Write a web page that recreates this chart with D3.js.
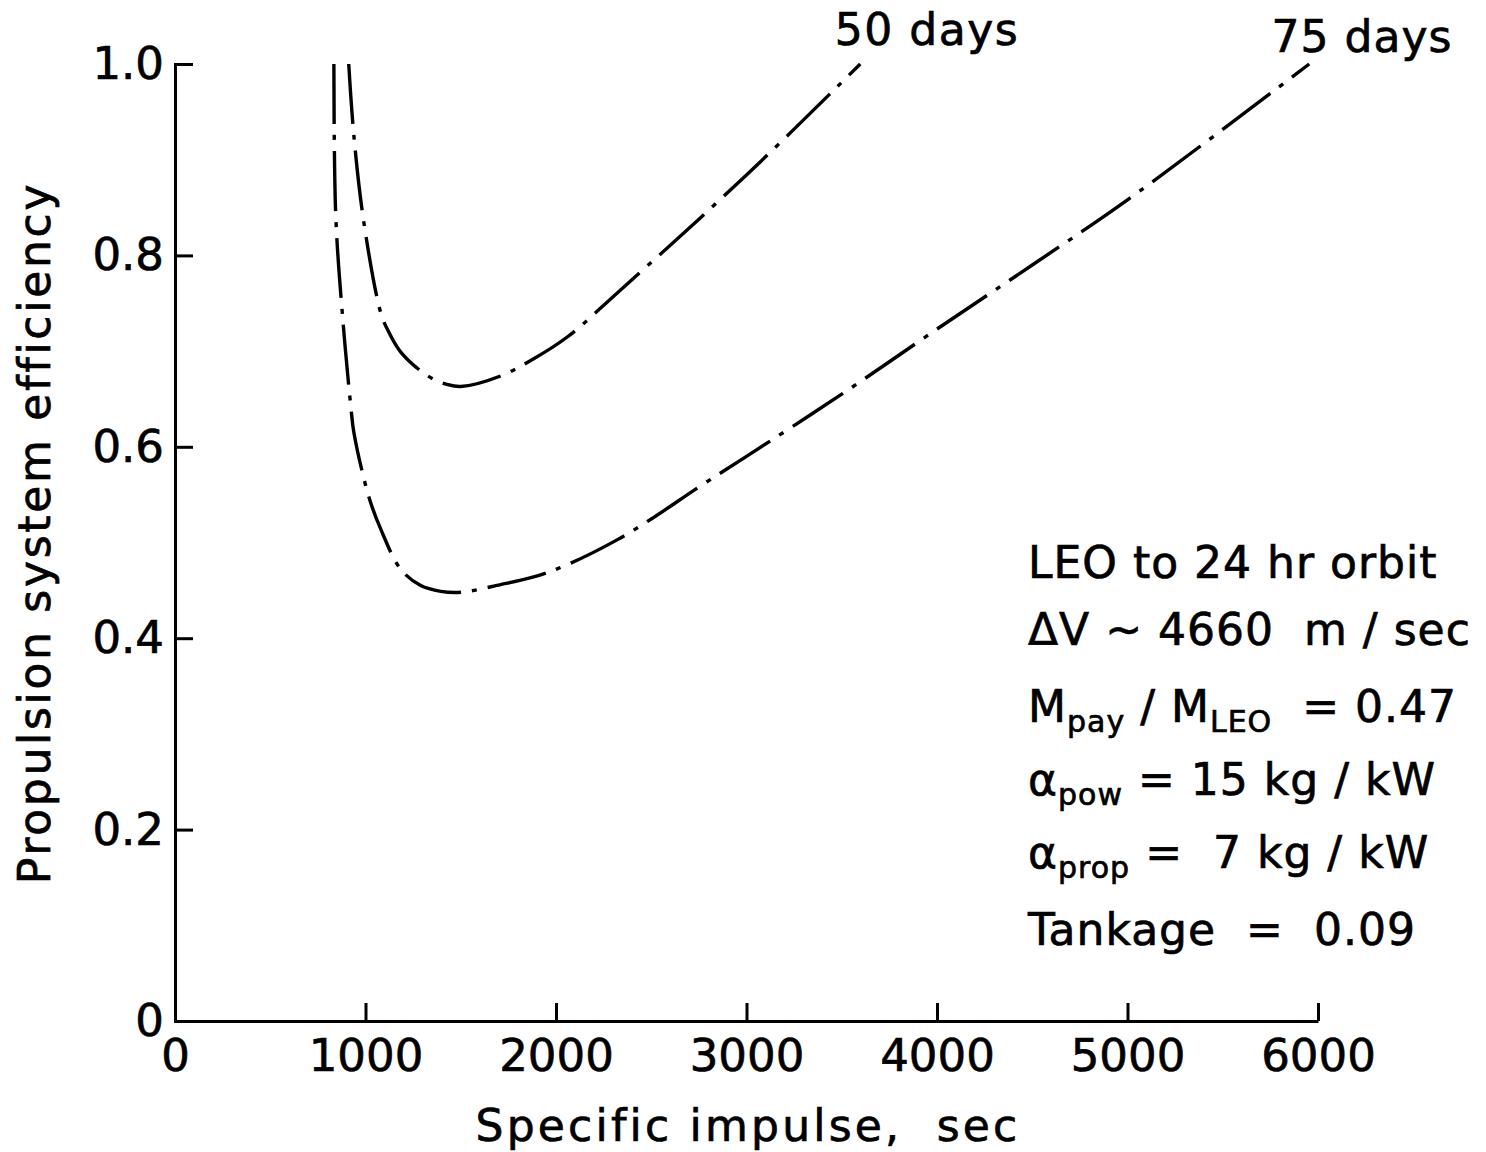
<!DOCTYPE html>
<html>
<head>
<meta charset="utf-8">
<script src="https://cdn.jsdelivr.net/npm/d3@7"></script>
<style>
  body { margin: 0; background: #fff; }
  svg text { font-family: "DejaVu Sans", sans-serif; fill: #000; stroke: #000; stroke-width: 0.7px; white-space: pre; }
</style>
</head>
<body>
<svg id="chart" width="1486" height="1152"></svg>
<script>
// specific impulse (sec) vs propulsion system efficiency, one curve per trip time
const isp50 = [912, 939, 991, 1080, 1117, 1185, 1327, 1431, 1500, 1709, 1883, 2061, 2323, 3000, 3597];
const eff50 = [1.0, 0.925, 0.835, 0.74, 0.722, 0.699, 0.674, 0.665, 0.663, 0.674, 0.692, 0.715, 0.761, 0.884, 1.0];

const isp75 = [834, 844, 881, 923, 939, 1017, 1080, 1185, 1290, 1395, 1500, 1709, 1883, 2061, 2323, 2496, 2758, 3000, 3500, 4000, 4500, 5000, 5954];
const eff75 = [1.0, 0.841, 0.733, 0.642, 0.615, 0.548, 0.514, 0.472, 0.455, 0.449, 0.448, 0.456, 0.464, 0.477, 0.503, 0.524, 0.559, 0.59, 0.655, 0.723, 0.79, 0.858, 1.0];

const curveLabels = ["50 days", "75 days"];

const xTicks = [0, 1000, 2000, 3000, 4000, 5000, 6000];
const yTicks = [0, 0.2, 0.4, 0.6, 0.8, 1.0];

// mission parameters box, each line split into [text, "sub"?] pieces
const noteLines = [
    [["LEO to 24 hr orbit"]],
    [["\u0394V ~ 4660  m / sec"]],
    [["M"], ["pay", "sub"], [" / M"], ["LEO", "sub"], ["  = 0.47"]],
    [["\u03b1"], ["pow", "sub"], [" = 15 kg / kW"]],
    [["\u03b1"], ["prop", "sub"], [" =  7 kg / kW"]],
    [["Tankage  =  0.09"]]
];

const svg = d3.select('#chart');

const xScale = d3.scaleLinear().domain([0, 6000]).range([175, 1318]);
const yScale = d3.scaleLinear().domain([0, 1]).range([1021, 64]);

/* Axes */
const xAxis = svg.append('g')
    .attr('transform', `translate(0,${yScale(0)})`)
    .call(d3.axisBottom(xScale)
        .tickValues(xTicks)
        .tickFormat(d3.format('d'))
        .tickSizeInner(-18)
        .tickSizeOuter(0)
        .tickPadding(18));

const yAxis = svg.append('g')
    .attr('transform', `translate(${xScale(0)},0)`)
    .call(d3.axisLeft(yScale)
        .tickValues(yTicks)
        .tickFormat((d) => d === 0 ? '0' : d3.format('.1f')(d))
        .tickSizeInner(-18)
        .tickSizeOuter(0)
        .tickPadding(11));

[xAxis, yAxis].forEach((ax) => {
    ax.selectAll('path, line').attr('stroke', '#000').attr('stroke-width', 3);
    ax.selectAll('text').attr('font-size', 45).attr('font-family', '"DejaVu Sans", sans-serif');
});
yAxis.select('path.domain').attr('stroke-linecap', 'square');

/* Curves */
const line = d3.line()
    .x((d) => xScale(d[0]))
    .y((d) => yScale(d[1]))
    .curve(d3.curveCatmullRom.alpha(0.5));

const series = [d3.zip(isp50, eff50), d3.zip(isp75, eff75)];

svg.append('g').selectAll('path')
    .data(series)
    .enter()
    .append('path')
    .attr('fill', 'none')
    .attr('stroke', '#000')
    .attr('stroke-width', 3.4)
    .attr('stroke-dasharray', '60,11,5,11')
    .attr('d', line);

// curve names above the upper end of each line
svg.append('text')
    .attr('x', 927).attr('y', 45)
    .attr('font-size', 44).attr('text-anchor', 'middle')
    .attr('letter-spacing', 1.5)
    .text(curveLabels[0]);
svg.append('text')
    .attr('x', 1362).attr('y', 52)
    .attr('font-size', 44).attr('text-anchor', 'middle')
    .attr('letter-spacing', 1)
    .text(curveLabels[1]);

/* Axis titles */
svg.append('text')
    .attr('x', 748).attr('y', 1141)
    .attr('font-size', 44).attr('text-anchor', 'middle')
    .attr('letter-spacing', 3.2)
    .text('Specific impulse,  sec');

svg.append('text')
    .attr('transform', 'translate(50,533) rotate(-90)')
    .attr('font-size', 44).attr('text-anchor', 'middle')
    .attr('letter-spacing', 2.7)
    .text('Propulsion system efficiency');

/* Parameter notes */
const noteBaselines = [578, 645, 722, 795, 868, 945];
const notes = svg.append('g').attr('class', 'notes');
noteLines.forEach((parts, i) => {
    const t = notes.append('text')
        .attr('x', 1028).attr('y', noteBaselines[i])
        .attr('font-size', 44)
        .attr('letter-spacing', 1);
    let shifted = false;
    parts.forEach(([str, kind]) => {
        const span = t.append('tspan').text(str);
        if (kind === 'sub') {
            span.attr('font-size', 30).attr('dy', shifted ? 0 : 10);
            shifted = true;
        } else if (shifted) {
            span.attr('dy', -10);
            shifted = false;
        }
    });
});
</script>
</body>
</html>
